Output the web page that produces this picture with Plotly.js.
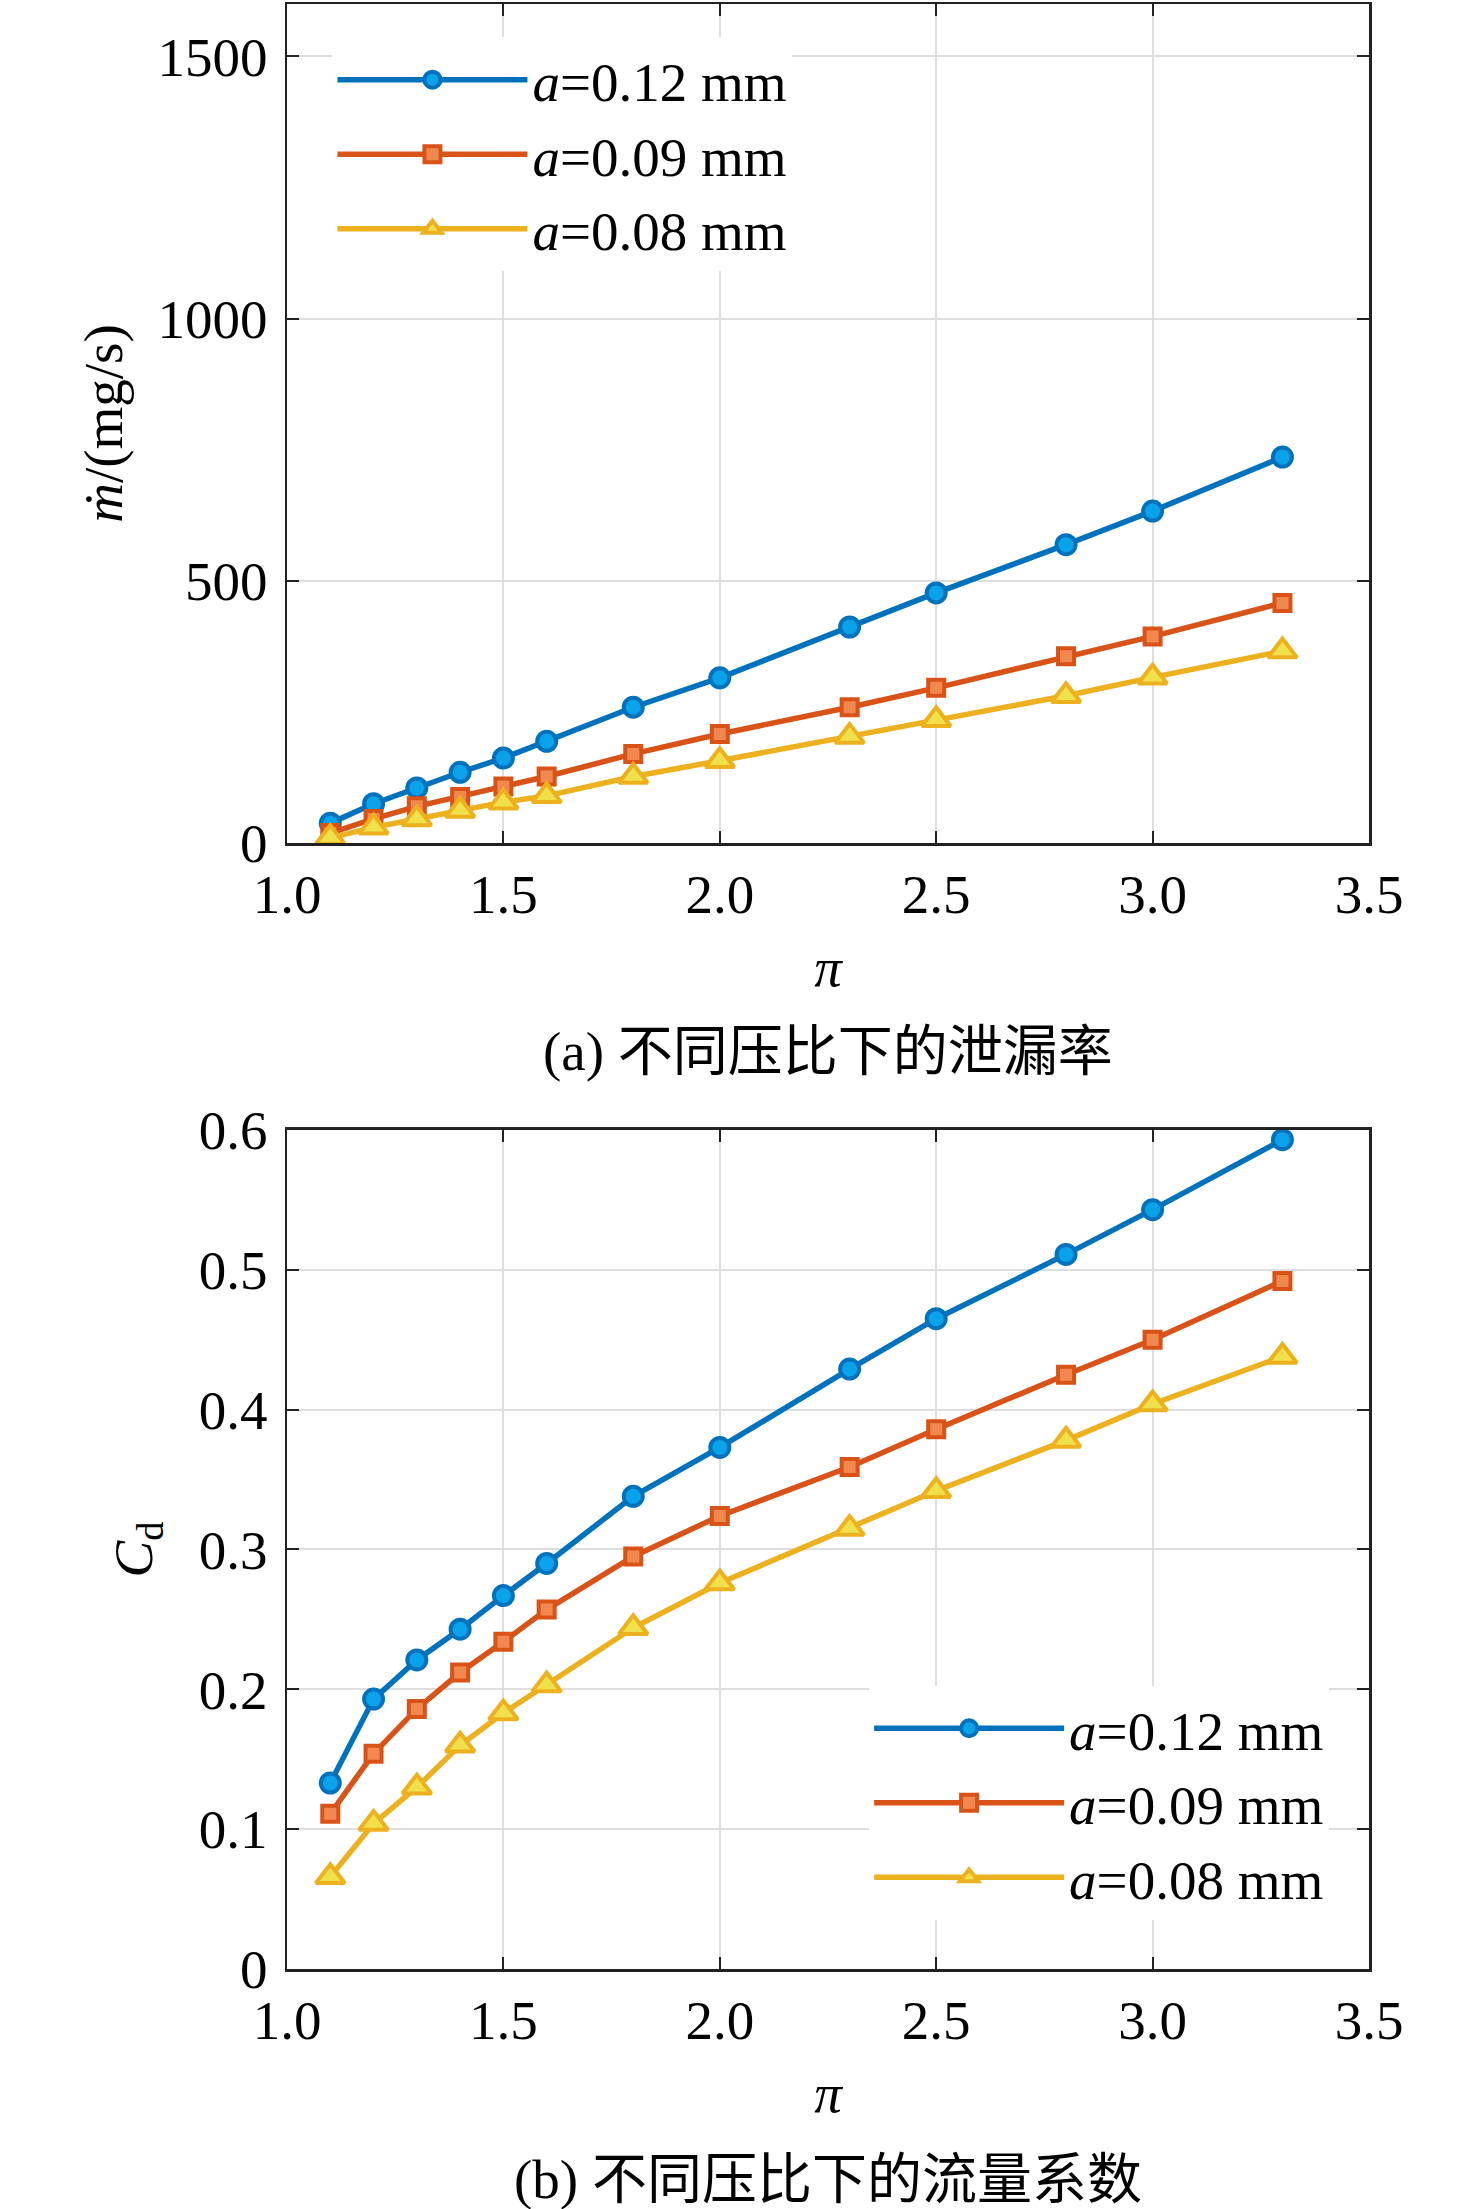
<!DOCTYPE html>
<html>
<head>
<meta charset="utf-8">
<script src="https://cdn.plot.ly/plotly-3.0.1.min.js"></script>
<style>
  html, body { margin: 0; padding: 0; background: #fff; }
  #chart { width: 1476px; height: 2209px; }
</style>
</head>
<body>
<div id="chart"></div>
<script>
// pressure ratio pi
var pressureRatio = [1.1, 1.2, 1.3, 1.4, 1.5, 1.6, 1.8, 2.0, 2.3, 2.5, 2.8, 3.0, 3.3];

// leakage rate, mg/s
var leak012 = [38, 75, 105, 135, 162, 194, 259, 315, 412, 477, 569, 633, 736];
var leak009 = [19, 46, 70, 88, 108, 127, 170, 208, 259, 296, 356, 394, 458];
var leak008 = [10, 30, 46, 62, 78, 90, 127, 157, 203, 235, 281, 316, 366];

// discharge coefficient Cd
var cd012 = [0.133, 0.193, 0.221, 0.243, 0.267, 0.290, 0.338, 0.373, 0.429, 0.465, 0.511, 0.543, 0.593];
var cd009 = [0.111, 0.154, 0.186, 0.212, 0.234, 0.257, 0.295, 0.324, 0.359, 0.386, 0.425, 0.450, 0.492];
var cd008 = [0.066, 0.104, 0.130, 0.160, 0.183, 0.203, 0.244, 0.276, 0.315, 0.342, 0.378, 0.404, 0.438];

var seriesNames = ['<i>a</i>=0.12 mm', '<i>a</i>=0.09 mm', '<i>a</i>=0.08 mm'];

var xTickVals = [1.0, 1.5, 2.0, 2.5, 3.0, 3.5];
var xTickText = ['1.0', '1.5', '2.0', '2.5', '3.0', '3.5'];
var leakTickVals = [0, 500, 1000, 1500];
var leakTickText = ['0', '500', '1000', '1500'];
var cdTickVals = [0, 0.1, 0.2, 0.3, 0.4, 0.5, 0.6];
var cdTickText = ['0', '0.1', '0.2', '0.3', '0.4', '0.5', '0.6'];

var serif = 'Liberation Serif, Times New Roman, serif';
var cjk = 'Liberation Serif, Noto Sans CJK SC, serif';

var styles = [
  { line: '#0072BD', face: '#0aa2e8', symbol: 'circle', size: 19 },
  { line: '#D95319', face: '#f0884f', symbol: 'square', size: 16 },
  { line: '#EDB120', face: '#f0e04c', symbol: 'triangle-up', size: 25 }
];

function series(x, y, i, xa, ya, legend) {
  var s = styles[i];
  return {
    x: x, y: y, name: seriesNames[i],
    xaxis: xa, yaxis: ya, legend: legend,
    type: 'scatter', mode: 'lines+markers',
    line: { color: s.line, width: 5.5 },
    marker: { symbol: s.symbol, size: s.size, color: s.face, line: { color: s.line, width: 4 } }
  };
}

var data = [
  series(pressureRatio, leak012, 0, 'x', 'y', 'legend'),
  series(pressureRatio, leak009, 1, 'x', 'y', 'legend'),
  series(pressureRatio, leak008, 2, 'x', 'y', 'legend'),
  series(pressureRatio, cd012, 0, 'x2', 'y2', 'legend2'),
  series(pressureRatio, cd009, 1, 'x2', 'y2', 'legend2'),
  series(pressureRatio, cd008, 2, 'x2', 'y2', 'legend2')
];

function xAxis(anchor) {
  return {
    anchor: anchor, domain: [0, 1], range: [1, 3.5],
    tickvals: xTickVals, ticktext: xTickText,
    ticks: 'inside', ticklen: 12, tickwidth: 2, tickcolor: '#222',
    showline: true, linewidth: 2.5, linecolor: '#222', mirror: 'ticks',
    showgrid: true, gridcolor: '#dedede', gridwidth: 2, zeroline: false,
    tickfont: { family: serif, size: 55, color: '#000' },
    ticklabelstandoff: 1,
    title: { text: '<i>π</i>', font: { family: serif, size: 55, color: '#000' }, standoff: 24 }
  };
}

function yAxis(anchor, domain, range, vals, text, title, standoff) {
  return {
    anchor: anchor, domain: domain, range: range,
    tickvals: vals, ticktext: text,
    ticks: 'inside', ticklen: 12, tickwidth: 2, tickcolor: '#222',
    showline: true, linewidth: 2.5, linecolor: '#222', mirror: 'ticks',
    showgrid: true, gridcolor: '#dedede', gridwidth: 2, zeroline: false,
    tickfont: { family: serif, size: 55, color: '#000' },
    ticklabelstandoff: 6,
    title: { text: title, font: { family: serif, size: 55, color: '#000' }, standoff: standoff }
  };
}

var legendStyle = {
  bgcolor: '#ffffff', borderwidth: 0,
  font: { family: serif, size: 55, color: '#000' },
  itemwidth: 190, xanchor: 'left', yanchor: 'top'
};

var layout = {
  width: 1476, height: 2209,
  margin: { l: 287, r: 107, t: 4, b: 240 },
  paper_bgcolor: '#fff', plot_bgcolor: '#fff',
  showlegend: true,
  xaxis: xAxis('y'),
  yaxis: yAxis('x', [0.573, 1], [0, 1600], leakTickVals, leakTickText, '<i>ṁ</i>/(mg/s)', 17),
  xaxis2: xAxis('y2'),
  yaxis2: yAxis('x2', [0, 0.427], [0, 0.6], cdTickVals, cdTickText, '<i>C</i><sub>d</sub>', 29),
  legend: Object.assign({ x: 0.042, y: 0.983 }, legendStyle),
  legend2: Object.assign({ x: 0.538, y: 0.144 }, legendStyle),
  annotations: [
    { text: '(a) 不同压比下的泄漏率', xref: 'paper', yref: 'paper', x: 0.5, y: 0.4667,
      xanchor: 'center', yanchor: 'middle', showarrow: false,
      font: { family: cjk, size: 55, color: '#000' } },
    { text: '(b) 不同压比下的流量系数', xref: 'paper', yref: 'paper', x: 0.5, y: -0.1069,
      xanchor: 'center', yanchor: 'middle', showarrow: false,
      font: { family: cjk, size: 55, color: '#000' } }
  ]
};

Plotly.newPlot('chart', data, layout, { displayModeBar: false, staticPlot: true });
</script>
</body>
</html>
